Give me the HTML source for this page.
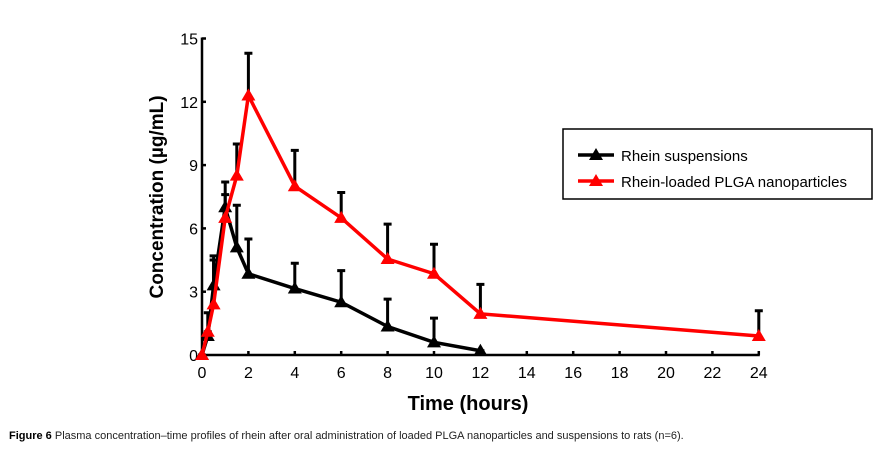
<!DOCTYPE html>
<html><head><meta charset="utf-8"><style>
body{margin:0;background:#fff;width:890px;height:449px;overflow:hidden;font-family:"Liberation Sans",Arial,sans-serif}
</style></head><body>
<svg id="c" width="890" height="449" font-family="Liberation Sans, Arial, sans-serif"></svg>
<div style="position:absolute;left:9px;top:430px;font-size:11px;color:#222"><b style="color:#000">Figure 6</b> Plasma concentration–time profiles of rhein after oral administration of loaded PLGA nanoparticles and suspensions to rats (n=6).</div>
<script>
const times=[0,0.25,0.5,1,1.5,2,4,6,8,10,12];
const suspVals=[0,0.9,3.3,7.0,5.1,3.85,3.15,2.5,1.35,0.6,0.2];
const suspErr=[0,2.0,4.7,8.2,7.1,5.5,4.35,4.0,2.65,1.75,0.2];
const nanoTimes=[0,0.25,0.5,1,1.5,2,4,6,8,10,12,24];
const nanoVals=[0,1.1,2.4,6.5,8.5,12.3,8.0,6.5,4.55,3.85,1.95,0.9];
const nanoErr=[0,1.1,4.5,7.6,10.0,14.3,9.7,7.7,6.2,5.25,3.35,2.1];
const xTicks=[0,2,4,6,8,10,12,14,16,18,20,22,24];
const yTicks=[0,3,6,9,12,15];
const NS="http://www.w3.org/2000/svg",svg=document.getElementById('c');
const X=t=>202+t*23.2, Y=v=>355-v*21.1;
function el(tag,a,p){const e=document.createElementNS(NS,tag);for(const k in a)e.setAttribute(k,a[k]);(p||svg).appendChild(e);return e;}
let ax=el('path',{d:`M${X(0)} ${Y(15)-1}V${Y(0)}H${X(24)+1}`,stroke:'#000','stroke-width':2.5,fill:'none'});


yTicks.forEach(v=>{
  let t=el('line',{x1:X(0),x2:X(0)+4,y1:Y(v),y2:Y(v),stroke:'#000','stroke-width':2.5});
  
  
  let l=el('text',{x:X(0)-4,y:Y(v)+6,'font-size':16,'text-anchor':'end'});l.textContent=v;
  
  
});
xTicks.forEach(v=>{
  let t=el('line',{x1:X(v),x2:X(v),y1:Y(0),y2:Y(0)-4,stroke:'#000','stroke-width':2.5});
  
  
  let l=el('text',{x:X(v),y:Y(0)+23,'font-size':16,'text-anchor':'middle'});l.textContent=v;
  
  
});
let yt=el('text',{x:0,y:0,'font-size':19,'font-weight':'bold','text-anchor':'middle',transform:'translate(163,197) rotate(-90)'});yt.textContent='Concentration (µg/mL)';


let xt=el('text',{x:468,y:410,'font-size':20,'font-weight':'bold','text-anchor':'middle'});xt.textContent='Time (hours)';


function tri(x,y,c,name){let p=el('path',{d:`M${x} ${y-7}L${x+7} ${y+5}L${x-7} ${y+5}Z`,fill:c});
  
  }
function series(ts,vals,errs,c,name){
  ts.forEach((t,i)=>{
    let e=el('path',{d:`M${X(t)} ${Y(vals[i])}V${Y(errs[i])}M${X(t)-4} ${Y(errs[i])}H${X(t)+4}`,stroke:'#000','stroke-width':3,fill:'none'});
    
    
  });
  let ln=el('polyline',{points:ts.map((t,i)=>X(t)+','+Y(vals[i])).join(' '),stroke:c,'stroke-width':3.5,fill:'none'});
  
  
  ts.forEach((t,i)=>tri(X(t),Y(vals[i]),c,name+'-point'));
}
series(times,suspVals,suspErr,'#000','suspension');
series(nanoTimes,nanoVals,nanoErr,'#f00','nanoparticle');
let g=el('g',{});


el('rect',{x:563,y:129,width:309,height:70,fill:'#fff',stroke:'#000','stroke-width':1.5},g);
[['#000','Rhein suspensions',155],['#f00','Rhein-loaded PLGA nanoparticles',181]].forEach(([c,s,y],i)=>{
  el('line',{x1:578,x2:614,y1:y,y2:y,stroke:c,'stroke-width':3.5},g);
  tri(596,y,c,'legend-marker');
  let t=el('text',{x:621,y:y+6,'font-size':15},g);t.textContent=s;
  
  
});
</script>
</body></html>
